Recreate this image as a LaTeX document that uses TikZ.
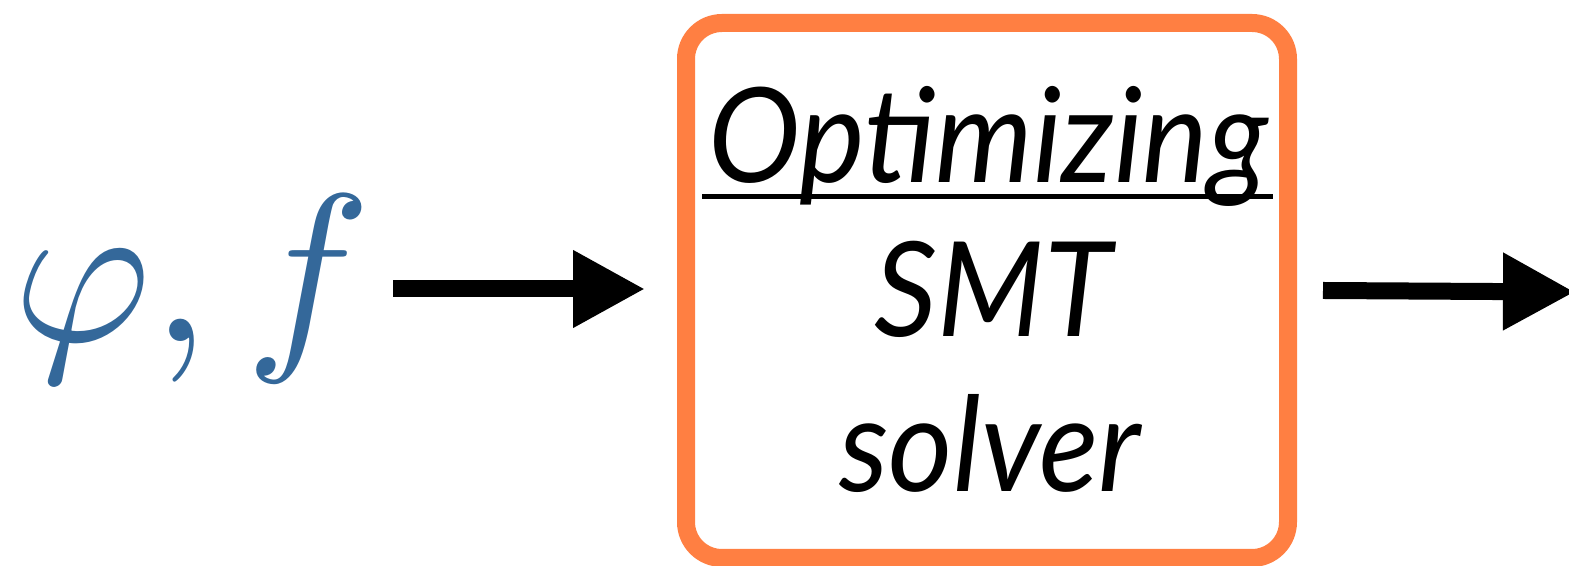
\documentclass[tikz,border=0pt]{standalone}
\usepackage{graphicx}
\usepackage{fontspec}
\usepackage{tikz}
\usetikzlibrary{arrows.meta}
\newfontfamily\boxfont[FakeStretch=0.94]{Lato}

\definecolor{inblue}{RGB}{52,104,154}
\definecolor{boxorange}{RGB}{255,127,66}

\begin{document}
\begin{tikzpicture}
\tikzset{fat/.style={line width=0.17cm, -{Triangle[length=0.72cm,width=0.73cm]}},
  boxtext/.style={anchor=base, inner sep=0pt, font=\boxfont\itshape\fontsize{37.5}{40}\selectfont}}
\useasboundingbox (0,0) rectangle (15.69,5.66);

\node[anchor=east, inner sep=0pt, text=inblue] (in) at (3.72,2.775) {\scalebox{6.0}{$\varphi, f$}};

\node[draw=boxorange, line width=0.18cm, rounded corners=0.36cm, minimum width=6.02cm, minimum height=5.35cm] (solver) at (9.87,2.755) {};

\node[boxtext] (opt) at (9.88,3.83) {Optimizing};
\node[boxtext] (smt) at (9.93,2.29) {SMT};
\node[boxtext] (slv) at (9.9,0.74) {solver};
\draw[line width=0.05cm] ([shift={(-0.05,-0.14)}]opt.base west) -- ([shift={(0.04,-0.14)}]opt.base east);

\coordinate (out) at (15.75,2.74);

\draw[fat] ([xshift=0.21cm]in.east |- solver.west) ++(0,0.015) -- ([shift={(-0.32,0.015)}]solver.west);
\draw[fat] ([xshift=0.26cm]solver.east) -- (out);

\end{tikzpicture}
\end{document}
